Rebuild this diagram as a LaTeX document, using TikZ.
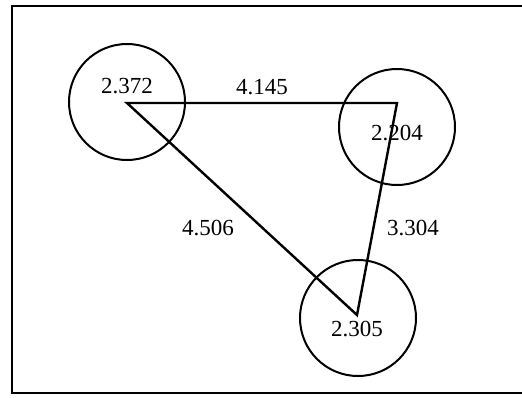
\documentclass[tikz,border=0pt]{standalone}
\usepackage{fontspec}
\setmainfont{Liberation Serif}
\tikzset{
  site/.style={circle,draw,line width=2pt,minimum size=116pt,inner sep=0pt},
  val/.style={font=\fontsize{23}{23}\selectfont,inner sep=0pt},
  link/.style={draw,line width=2.4pt,line join=miter}
}
\begin{document}
\begin{tikzpicture}[x=1pt,y=-1pt]
\useasboundingbox (0,0) rectangle (522,397);
\clip (0,0) rectangle (522,397);
\draw[line width=2.4pt] (12,6) rectangle (540,393);
% ---- sites ----
\foreach \n/\x/\y in {A/127/102,B/397/127,C/358/318}{
  \node[site] (\n) at (\x,\y) {};}
% ---- triangle ----
\coordinate (pA) at (127,103);
\coordinate (pB) at (397,103);
\coordinate (pC) at (357,315);
\draw[link] (pA) -- (pB) -- (pC) -- cycle;
% ---- values ----
\foreach \n/\x/\y/\t in {vA/127/86/2.372,vB/397/133/2.204,vC/357/329/2.305,
    eAB/262/87/4.145,eAC/208/228/4.506,eBC/413/228/3.304}{
  \node[val] (\n) at (\x,\y) {\t};}
\end{tikzpicture}
\end{document}
